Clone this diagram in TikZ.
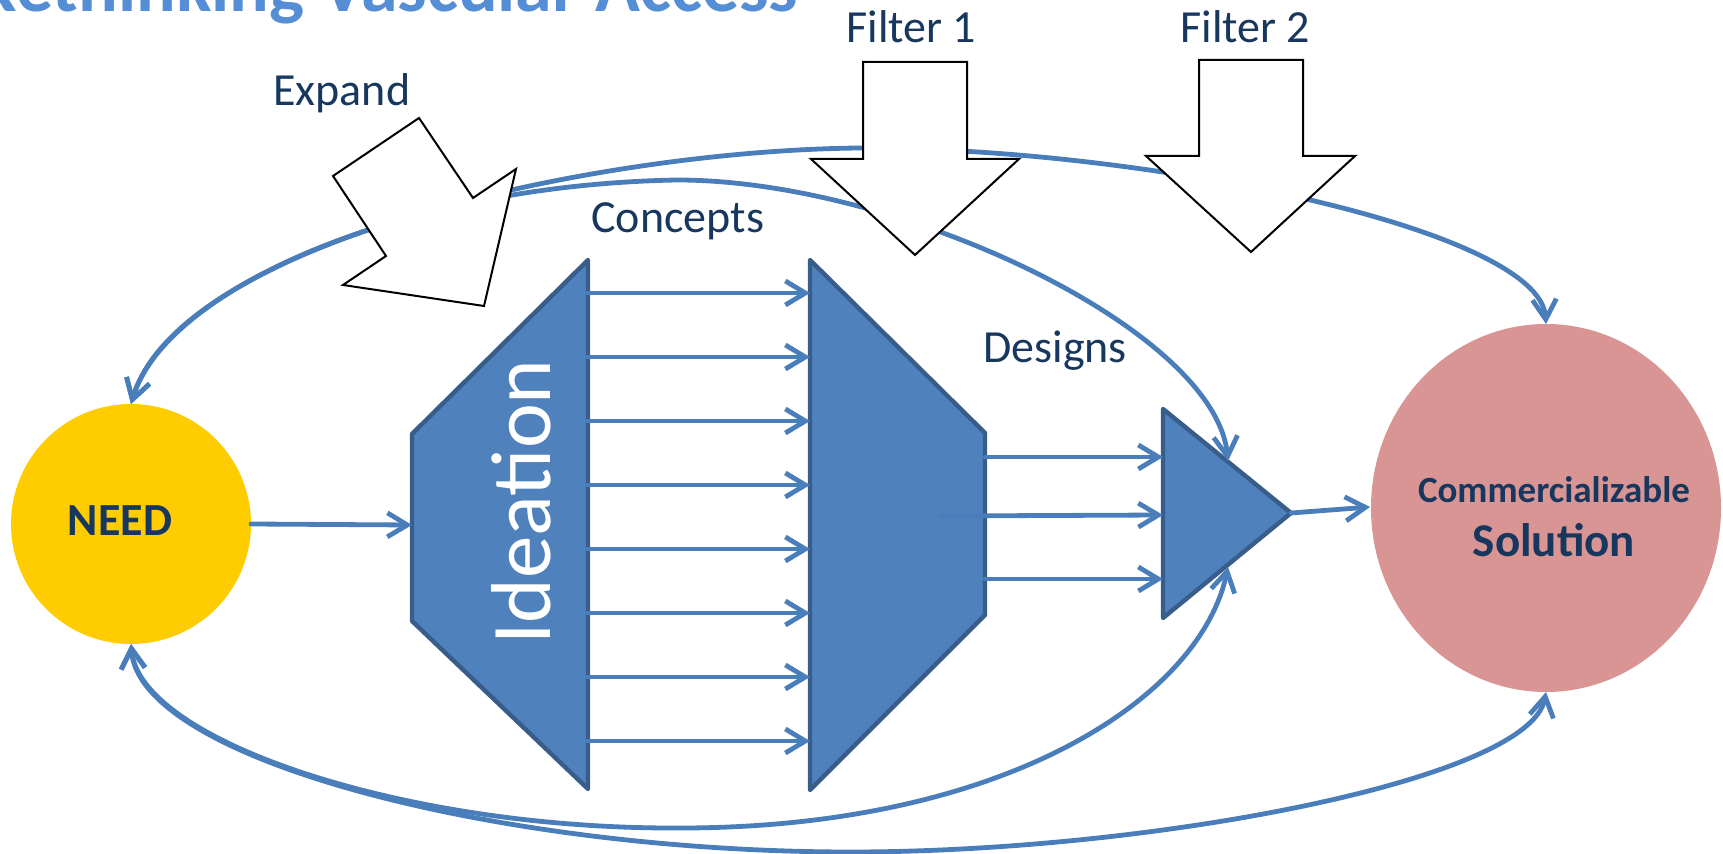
\documentclass[tikz,border=0pt]{standalone}
\usepackage{fontspec}
\setmainfont{Carlito}
\usetikzlibrary{arrows.meta,shapes.geometric}
\definecolor{navy}{HTML}{17375E}
\definecolor{titleblue}{HTML}{558ED5}
\definecolor{needyellow}{HTML}{FFCC00}
\definecolor{solpink}{HTML}{D99594}
\definecolor{shapefill}{HTML}{4F81BD}
\definecolor{shapeline}{HTML}{385D8A}
\definecolor{connblue}{HTML}{4A7EBB}
\begin{document}
\begin{tikzpicture}[x=0.5pt,y=-0.5pt,
  barb/.tip={Straight Barb[length=10pt,width=12pt]},
  conn/.style={draw=connblue,line width=2.4pt,line cap=round},
  blueshape/.style={fill=shapefill,draw=shapeline,line width=2.2pt,line join=round},
  blockarrow/.style={fill=white,draw=black,line width=1pt,line join=miter},
  lbl/.style={font=\fontsize{23pt}{27pt}\selectfont,text=navy,inner sep=0pt,anchor=base west},
  ]
\useasboundingbox (0,0) rectangle (1723,854);
\clip (0,0) rectangle (1723,854);

% title (cut off at top, as in the reference)
\node[font=\bfseries\fontsize{37pt}{40pt}\selectfont,text=titleblue,inner sep=0pt,anchor=base west] (title) at (-25,12) {Rethinking Vascular Access};

% main circles
\node[circle,fill=needyellow,minimum size=120pt,inner sep=0pt,outer sep=0pt] (need) at (131,524) {};
\node[font=\bfseries\fontsize{23pt}{27pt}\selectfont,text=navy,inner sep=0pt,anchor=base] (needtxt) at (120,536) {NEED};
\node[ellipse,fill=solpink,minimum width=175pt,minimum height=184pt,inner sep=0pt,outer sep=0pt] (sol) at (1546,508) {};
\node[font=\bfseries\fontsize{18.5pt}{22pt}\selectfont,text=navy,inner sep=0pt,anchor=base] (soltxt1) at (1554,503) {Commercializable};
\node[font=\bfseries\fontsize{23.5pt}{27pt}\selectfont,text=navy,inner sep=0pt,anchor=base] (soltxt2) at (1554,557) {Solution};

% Ideation shape
\draw[blueshape] (588,260) -- (412,434) -- (412,621) -- (588,789) -- cycle;
\coordinate (idL) at (412,525);
\node[rotate=90,anchor=base west,inner sep=0pt,text=white,font=\fontsize{42.5pt}{46pt}\selectfont] (idtxt) at (550,645) {Ideation};

% concept collector shape
\draw[blueshape] (810,260) -- (985,433) -- (985,615) -- (810,790) -- cycle;

% design selector triangle
\draw[blueshape] (1163,409) -- (1291,513) -- (1163,618) -- cycle;
\coordinate (tritip) at (1291,513);
\coordinate (tritop) at (1228,461);
\coordinate (tribot) at (1228,567);

% straight arrows
\draw[conn,-barb] (need.east) -- (idL);
\foreach \i in {0,...,7}{
  \coordinate (cs\i) at (588,293+64*\i);
  \coordinate (ce\i) at (810,293+64*\i);
  \draw[conn,-barb] (cs\i) -- (ce\i);
}
\coordinate (ds1) at (985,457);  \coordinate (de1) at (1163,457);
\coordinate (ds2) at (940,516);  \coordinate (de2) at (1163,515);
\coordinate (ds3) at (985,579);  \coordinate (de3) at (1163,579);
\draw[conn,-barb] (ds1) -- (de1);
\draw[conn,-barb] (ds2) -- (de2);
\draw[conn,-barb] (ds3) -- (de3);
\coordinate (solin) at (1370,507);
\draw[conn,-barb] (tritip) -- (solin);

% feedback curves
\coordinate (topA) at (861,148);
\draw[conn,barb-barb] (need.north) .. controls (180,240) and (600,150) .. (topA)
   .. controls (1150,148) and (1540,230) .. (sol.north);
\coordinate (topB) at (677,180);
\draw[conn,barb-barb] (need.north) .. controls (165,290) and (400,185) .. (topB)
   .. controls (900,180) and (1215,330) .. (tritop);
\coordinate (botC) at (672,828);
\draw[conn,barb-barb] (need.south) .. controls (140,740) and (400,828) .. (botC)
   .. controls (1000,830) and (1200,700) .. (tribot);
\coordinate (botD) at (851,852);
\draw[conn,barb-barb] (need.south) .. controls (140,760) and (500,852) .. (botD)
   .. controls (1150,852) and (1530,780) .. (sol.south);

% block arrows
\draw[blockarrow] (333,176) -- (419,118) -- (473,198) -- (516,169) -- (484,306) -- (343,285) -- (386,256) -- cycle;
\draw[blockarrow] (863,62) -- (967,62) -- (967,159) -- (1019,159) -- (915,255) -- (811,159) -- (863,159) -- cycle;
\draw[blockarrow] (1199,60) -- (1303,60) -- (1303,156) -- (1355,156) -- (1251,252) -- (1146,156) -- (1199,156) -- cycle;

% labels
\node[lbl] (expand) at (273,106) {Expand};
\node[lbl] (concepts) at (591,233) {Concepts};
\node[lbl] (filter1) at (846,43) {Filter 1};
\node[lbl] (filter2) at (1180,43) {Filter 2};
\node[lbl] (designs) at (983,363) {Designs};
\end{tikzpicture}
\end{document}
